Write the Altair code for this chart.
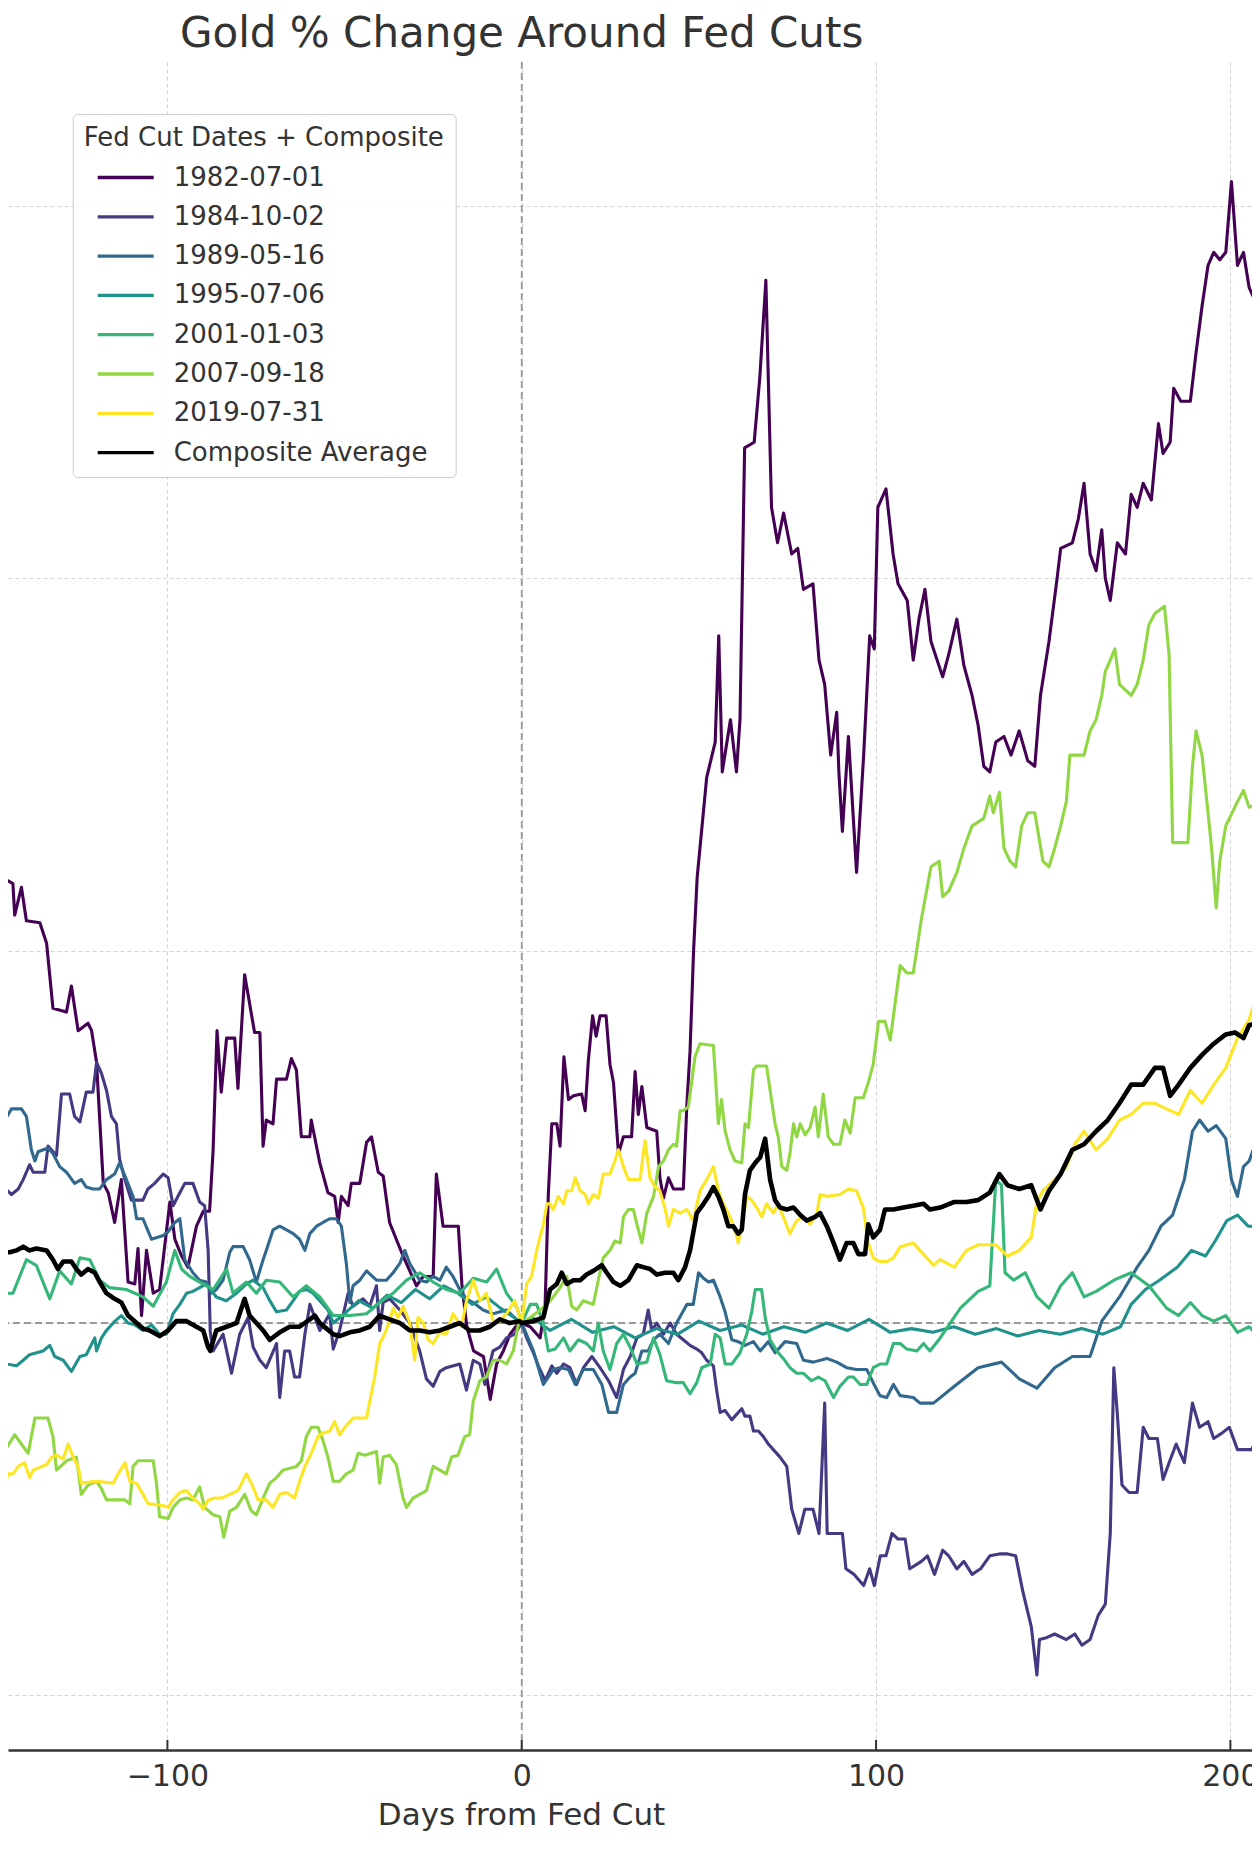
import altair as alt
import pandas as pd

names = ["1982-07-01", "1984-10-02", "1989-05-16", "1995-07-06",
         "2001-01-03", "2007-09-18", "2019-07-31", "Composite Average"]
colors = ["#440154", "#443983", "#31688e", "#21918c",
          "#35b779", "#90d743", "#fde725", "#000000"]
tick_values = [-100, 0, 100, 200]
chart_title = ["Gold % Change Around Fed Cuts"]

s1982 = [(-147.3,21.9),(-146.4,23.9),(-143.6,23.6),(-143.1,21.9),(-141.2,23.4),(-139.8,21.6),(-136.0,21.5),(-134.1,20.4),
 (-132.3,16.9),(-128.5,16.7),(-127.1,18.1),(-125.2,15.7),(-122.4,16.1),(-121.4,15.7),(-120.0,14.0),(-118.1,7.5),
 (-116.7,7.0),(-114.9,5.4),(-113.0,7.7),(-111.1,2.2),(-109.2,2.1),(-108.3,4.0),(-107.3,0.4),(-105.9,3.9),(-104.0,1.6),
 (-102.2,1.8),(-99.3,6.5),(-97.9,4.5),(-96.0,3.6),(-94.2,3.0),(-91.8,5.2),(-89.9,6.0),(-88.1,6.0),(-87.1,9.3),
 (-86.0,15.7),(-84.8,12.4),(-83.3,15.3),(-81.0,15.3),(-80.1,12.6),(-78.2,18.7),(-75.4,15.6),(-73.9,15.6),(-73.0,9.5),
 (-72.1,10.9),(-70.2,10.7),(-69.2,13.1),(-66.4,13.1),(-65.0,14.2),(-63.6,13.6),(-62.2,10.0),(-59.8,10.0),(-59.4,10.9),
 (-57.0,8.6),(-54.7,7.0),(-52.8,6.8),(-51.8,5.4),(-50.9,6.8),(-49.0,6.3),(-48.1,7.5),(-45.7,7.5),(-43.8,9.7),
 (-42.4,10.0),(-40.5,8.1),(-39.1,7.9),(-37.3,5.4),(-35.4,4.5),(-33.5,3.6),(-29.7,2.0),(-27.8,2.5),(-25.0,2.5),
 (-24.1,8.0),(-22.2,5.2),(-17.9,5.2),(-16.9,2.1),(-15.5,-0.2),(-13.6,-1.5),(-10.8,-1.8),(-8.9,-4.1),(-7.1,-2.2),
 (-5.2,-1.5),(-3.3,-0.6),(-0.5,0.1),(0,0),(2.4,-0.2),(5.2,-0.8),(6.6,1.0),(7.5,6.9),(8.5,10.7),(9.9,10.7),(10.8,9.5),
 (11.9,14.3),(13.2,12.0),(14.6,12.2),(16.9,12.3),(17.9,11.4),(18.8,14.1),(20.0,16.5),(21.0,15.4),(22.1,16.5),
 (23.8,16.5),(24.9,13.9),(25.9,12.9),(27.3,9.1),(28.7,10.0),(31.0,10.0),(32.0,13.5),(32.9,11.2),(33.9,12.7),
 (35.3,10.5),(38.1,10.3),(39.0,7.8),(40.0,6.7),(41.4,7.8),(42.8,7.2),(45.6,7.2),(46.6,11.7),(47.5,14.6),(48.5,20.0),
 (49.5,23.9),(52.2,29.3),(54.6,31.2),(55.6,36.9),(56.6,29.6),(58.9,32.4),(60.6,29.6),(61.6,32.4),(62.9,47.0),
 (65.6,47.3),(67.2,50.8),(68.9,56.0),(70.5,43.8),(72.2,41.9),(73.9,43.5),(76.2,41.3),(77.9,41.6),(79.5,39.4),
 (82.2,39.7),(83.9,35.6),(85.5,34.3),(87.2,30.5),(88.9,32.8),(89.5,29.6),(90.5,26.4),(92.2,31.5),(94.5,24.2),
 (96.5,30.5),(98.2,36.9),(99.5,36.2),(100.5,43.8),(102.8,44.8),(104.8,41.3),(106.2,39.7),(108.8,38.8),(110.5,35.6),
 (112.1,37.8),(113.8,39.4),(115.5,36.6),(118.8,34.7),(120.5,35.9),(122.8,37.8),(124.8,35.3),(127.1,33.7),
 (128.8,32.1),(130.4,29.9),(132.1,29.6),(133.8,31.2),(136.1,31.5),(138.1,30.5),(140.4,31.8),(142.8,30.2),
 (144.8,29.9),(146.4,33.7),(148.8,36.6),(151.1,40.0),(152.1,41.6),(155.4,41.9),(157.1,43.2),(158.7,45.1),
 (160.4,41.3),(162.1,40.4),(163.7,42.6),(164.7,40.0),(166.1,38.8),(168.1,41.9),(170.4,41.3),(172.0,44.5),
 (173.7,43.8),(175.4,45.1),(177.7,44.2),(179.7,48.3),(181.0,46.7),(183.0,47.3),(184.0,50.2),(186.0,49.5),
 (188.7,49.5),(190.3,52.1),(192.0,54.6),(193.7,56.8),(195.3,57.5),(197.0,57.1),(198.7,57.5),(200.3,61.3),
 (202.0,56.8),(203.7,57.5),(205.3,55.6),(207.0,54.9),(208.3,57.8)]

s1984 = [(-147.3,7.5),(-144.0,6.9),(-142.1,7.2),(-140.7,7.7),(-138.9,8.5),(-137.9,8.1),(-134.6,8.1),(-133.7,9.5),
 (-131.3,9.0),(-129.9,12.3),(-127.6,12.3),(-126.2,11.1),(-124.7,10.8),(-122.9,12.4),(-121.0,12.4),(-120.0,14.0),
 (-118.6,13.4),(-117.2,12.5),(-115.8,11.1),(-114.4,10.7),(-113.5,8.8),(-112.0,7.7),(-110.2,6.6),(-106.9,6.6),
 (-105.5,7.2),(-103.6,7.5),(-101.2,8.0),(-99.8,7.8),(-98.4,6.3),(-96.5,7.0),(-95.1,7.5),(-92.8,7.5),(-90.9,6.5),
 (-89.5,6.3),(-88.5,3.9),(-87.9,-0.5),(-87.1,-1.5),(-84.3,-0.6),(-81.9,-2.7),(-79.6,-0.6),(-77.2,0.3),(-75.8,-1.3),
 (-73.9,-2.0),(-72.1,-2.4),(-69.2,-1.1),(-68.3,-4.0),(-66.9,-1.5),(-65.5,-1.5),(-64.1,-2.9),(-62.7,-2.9),
 (-61.2,-0.6),(-59.8,1.0),(-57.0,-0.4),(-54.2,0.5),(-53.2,-1.4),(-51.4,-0.4),(-49.0,1.6),(-47.6,0.9),(-44.8,1.3),
 (-42.9,0.9),(-41.0,2.0),(-40.1,-0.4),(-39.1,1.1),(-37.3,1.3),(-34.4,0.7),(-31.6,0.0),(-28.8,-1.5),(-26.9,-3.0),
 (-25.0,-3.4),(-23.1,-2.6),(-21.3,-2.4),(-17.5,-2.2),(-15.6,-3.6),(-13.7,-2.0),(-11.8,-2.2),(-10.4,-3.3),
 (-8.1,-1.5),(-6.2,-1.3),(-4.3,-0.8),(-2.0,-0.6),(0,0),(1.4,-0.8),(3.3,-1.6),(4.7,-2.3),(6.6,-3.1),(8.5,-2.3),
 (9.9,-2.7),(11.8,-2.2),(13.6,-2.4),(15.5,-3.3),(17.4,-2.4),(19.8,-1.8),(22.1,-2.4),(24.5,-3.1),(26.8,-4.0),
 (28.7,-2.5),(30.6,-1.8),(32.5,-0.8),(34.3,-0.6),(35.7,0.7),(36.7,-0.4),(38.1,0.0),(40.0,-0.6),(41.9,0.0),
 (43.7,-0.6),(45.6,-0.9),(47.5,-1.2),(49.4,-1.4),(50.8,-1.6),(52.2,-2.0),(54.1,-2.3),(55.0,-3.6),(56.0,-4.8),
 (57.4,-4.7),(59.3,-5.2),(60.2,-5.0),(62.1,-4.6),(63.0,-5.0),(64.4,-5.0),(65.4,-5.8),(66.8,-5.8),(68.2,-6.1),
 (69.6,-6.5),(71.0,-6.8),(72.9,-7.2),(74.8,-7.7),(76.2,-10.0),(78.2,-11.3),(79.9,-10.0),(82.2,-10.0),(83.9,-11.3),
 (85.5,-4.3),(86.2,-11.3),(90.5,-11.3),(91.5,-13.2),(93.8,-13.5),(96.5,-14.1),(98.2,-13.2),(99.5,-14.1),
 (101.2,-12.5),(102.8,-12.5),(104.5,-11.3),(106.2,-11.6),(108.2,-11.6),(109.5,-13.2),(112.8,-12.8),(114.5,-12.5),
 (116.5,-13.5),(118.8,-12.2),(120.5,-12.5),(122.8,-13.2),(124.8,-12.8),(127.1,-13.5),(129.5,-13.2),(132.1,-12.5),
 (134.8,-12.4),(137.1,-12.4),(139.4,-12.5),(141.4,-14.4),(143.8,-16.3),(145.4,-18.9),(146.1,-17.0),(148.1,-16.9),
 (150.4,-16.7),(153.7,-17.0),(156.1,-16.7),(158.1,-17.3),(160.4,-17.0),(162.7,-15.7),(164.7,-15.1),(166.1,-11.3),
 (167.1,-2.4),(168.1,-4.9),(169.4,-8.7),(171.4,-9.1),(173.7,-9.1),(175.4,-5.6),(177.0,-6.2),(179.4,-6.2),
 (181.0,-8.4),(182.7,-7.5),(184.7,-6.5),(187.0,-7.5),(189.3,-4.3),(191.3,-5.6),(193.7,-5.3),(195.3,-6.2),
 (197.7,-5.9),(199.7,-5.6),(202.0,-6.8),(204.3,-6.8),(206.0,-6.8),(208.3,-5.9)]

s1989 = [(-147.3,10.2),(-145.9,10.9),(-144.0,11.5),(-141.2,11.5),(-139.8,11.1),(-138.4,9.3),(-137.4,8.7),(-136.5,9.2),
 (-133.7,9.4),(-132.3,9.1),(-130.4,8.4),(-128.5,8.1),(-126.2,7.5),(-124.3,7.7),(-122.9,7.3),(-121.0,7.2),(-119.1,7.2),
 (-117.2,7.7),(-114.9,8.0),(-113.5,8.6),(-112.0,7.9),(-109.7,6.8),(-108.7,5.6),(-106.9,5.6),(-104.5,4.5),(-101.2,4.7),
 (-99.8,4.9),(-97.9,5.4),(-96.5,5.6),(-95.1,3.4),(-92.8,2.7),(-90.9,2.3),(-89.0,2.2),(-87.6,1.6),(-86.2,1.8),
 (-84.3,2.3),(-82.4,3.8),(-81.5,4.1),(-78.6,4.1),(-76.8,3.4),(-74.9,2.2),(-73.0,3.4),(-72.1,3.9),(-70.2,5.0),
 (-68.3,5.2),(-66.4,5.0),(-64.5,4.8),(-62.7,4.5),(-61.2,3.9),(-59.8,4.8),(-57.9,5.2),(-56.1,5.4),(-54.2,5.6),
 (-52.3,5.6),(-50.9,5.2),(-49.5,3.2),(-48.5,1.1),(-47.6,2.0),(-45.7,2.3),(-43.8,2.8),(-41.0,2.3),(-38.2,2.3),
 (-36.3,2.7),(-34.4,3.2),(-33.0,3.9),(-31.6,3.2),(-28.8,2.3),(-26.9,2.2),(-25.0,2.5),(-23.1,2.3),(-21.3,3.0),
 (-19.4,2.5),(-17.5,1.8),(-15.6,1.3),(-13.7,1.1),(-10.9,0.7),(-8.1,0.5),(-4.3,0.7),(-1.5,0.2),(0,0),(3.3,-1.5),
 (6.1,-3.3),(7.5,-2.9),(8.9,-2.5),(10.8,-2.4),(13.2,-2.5),(15.1,-3.3),(17.4,-2.5),(20.2,-2.5),(22.6,-3.3),
 (24.5,-4.8),(26.8,-4.8),(28.7,-3.3),(30.6,-2.9),(32.0,-2.7),(33.9,-1.5),(35.7,-1.5),(37.2,-0.9),(39.0,-0.6),
 (41.4,-1.1),(43.7,0.0),(46.6,1.0),(48.4,1.0),(49.9,2.7),(51.3,2.4),(52.7,2.2),(54.1,2.3),(56.0,1.4),(57.4,0.6),
 (59.3,-0.9),(61.1,-1.0),(63.0,-1.2),(65.4,-1.0),(67.3,-1.5),(69.6,-1.0),(71.5,-1.6),(74.3,-1.0),(77.6,-1.1),
 (79.5,-2.0),(82.3,-2.1),(86.1,-1.9),(88.9,-2.1),(91.7,-2.4),(94.5,-2.5),(97.4,-2.5),(99.7,-3.4),(101.1,-3.9),
 (103.0,-4.0),(104.9,-3.3),(106.8,-3.9),(110.5,-4.0),(112.4,-4.3),(116.2,-4.3),(122.1,-3.4),(128.8,-2.4),
 (135.4,-2.1),(140.4,-3.0),(145.4,-3.5),(150.4,-2.4),(155.4,-1.8),(160.4,-1.8),(163.7,0.1),(168.7,1.4),(173.7,3.0),
 (177.0,3.9),(180.4,5.2),(183.7,5.8),(187.0,7.7),(189.3,10.3),(191.3,10.9),(193.7,10.3),(196.0,10.6),(198.7,9.9),
 (200.3,7.7),(202.0,6.8),(203.7,8.4),(205.3,8.7),(207.0,9.6),(208.3,11.2)]

s1995 = [(-147.3,-2.0),(-145.4,-2.2),(-142.6,-2.3),(-140.7,-2.0),(-138.9,-1.7),(-135.1,-1.5),(-133.2,-1.2),(-131.8,-1.8),
 (-129.4,-2.0),(-127.1,-2.6),(-124.7,-1.8),(-122.9,-1.7),(-120.5,-0.8),(-120.0,-1.5),(-118.6,-0.8),(-117.2,-0.4),
 (-114.8,0.1),(-113.0,0.4),(-111.1,0.0),(-109.2,-0.1),(-106.9,-0.4),(-104.5,-0.1),(-102.2,-0.6),(-100.3,-0.6),
 (-98.4,0.5),(-96.5,1.0),(-94.6,1.6),(-92.8,1.7),(-90.9,1.9),(-89.0,2.1),(-86.2,1.4),(-83.4,1.2),(-80.5,1.6),
 (-77.7,2.1),(-75.8,2.3),(-73.0,1.9),(-71.1,1.2),(-69.2,0.6),(-66.4,0.7),(-64.5,1.2),(-62.7,1.7),(-60.8,1.8),
 (-58.9,1.6),(-57.0,1.2),(-54.7,0.7),(-53.2,0.0),(-50.0,0.5),(-46.0,1.2),(-42.0,0.8),(-38.0,1.5),(-34.0,1.1),
 (-30.0,1.8),(-26.0,1.3),(-22.0,2.0),(-18.0,1.6),(-14.0,1.0),(-10.0,1.4),(-6.0,0.8),(-3.0,0.4),(0,0),(3.0,0.3),
 (8.0,-0.4),(14.0,0.2),(20.0,-0.5),(26.0,-0.2),(32.0,-0.8),(38.0,-0.3),(44.0,-0.6),(50.0,0.1),(56.0,-0.4),
 (62.0,-0.1),(68.0,-0.6),(74.0,-0.2),(80.0,-0.5),(86.0,0.0),(92.0,-0.4),(98.0,0.2),(104.0,-0.5),(110.0,-0.3),
 (116.0,-0.5),(122.0,-0.2),(128.0,-0.6),(134.0,-0.3),(140.0,-0.7),(146.0,-0.4),(152.0,-0.6),(158.0,-0.3),
 (164.0,-0.6),(169.0,-0.2),(172.0,1.0),(176.0,1.8),(180.0,2.3),(185.0,3.0),(189.0,3.9),(193.0,3.6),(196.0,4.5),
 (199.0,5.5),(202.0,5.8),(205.0,5.2),(208.3,5.2)]

s2001 = [(-147.3,1.6),(-143.6,1.6),(-139.8,3.4),(-137.0,3.1),(-133.2,1.3),(-130.4,2.8),(-127.1,2.1),(-124.7,3.5),
 (-121.9,3.4),(-119.1,2.3),(-116.3,1.9),(-111.6,1.8),(-106.9,1.4),(-104.0,0.9),(-100.3,2.2),(-97.9,3.9),(-96.0,2.9),
 (-93.7,2.5),(-90.9,2.2),(-87.1,1.8),(-83.3,2.9),(-81.5,1.6),(-77.7,2.2),(-74.9,1.6),(-72.1,2.3),(-68.3,2.2),
 (-64.5,1.4),(-60.8,2.0),(-57.0,1.4),(-53.2,0.4),(-48.5,0.4),(-43.8,0.5),(-40.1,1.1),(-36.3,1.6),(-32.5,2.3),
 (-28.8,2.7),(-25.0,2.2),(-21.3,1.8),(-17.5,1.6),(-13.7,2.4),(-9.9,2.2),(-7.1,2.9),(-4.3,1.6),(-1.5,0.9),(0,0),
 (2.4,1.0),(4.2,1.0),(6.1,0.0),(7.5,-1.5),(9.4,-1.4),(11.8,-0.8),(13.6,-1.5),(16.0,-0.9),(18.3,-1.1),(20.2,-1.5),
 (21.6,0.0),(23.0,-1.5),(24.9,-2.5),(26.8,-1.1),(28.7,-0.6),(30.6,-1.3),(32.5,-2.2),(35.3,-2.1),(37.2,-0.8),
 (39.0,-1.7),(40.9,-3.1),(43.3,-3.2),(45.6,-3.2),(47.5,-3.8),(49.4,-3.2),(50.8,-2.4),(53.2,-2.2),(54.6,-0.6),
 (56.0,-0.8),(57.4,-2.2),(59.3,-2.2),(61.6,-1.6),(63.5,-0.6),(64.9,0.6),(65.9,1.8),(67.7,1.8),(68.7,0.3),
 (70.1,-0.9),(72.0,-1.5),(73.8,-1.9),(75.7,-2.4),(77.6,-2.7),(79.5,-2.7),(81.8,-3.1),(83.7,-2.9),(85.6,-3.1),
 (88.0,-4.0),(89.8,-3.4),(92.2,-2.9),(93.6,-2.9),(95.5,-3.3),(97.4,-3.3),(99.2,-2.4),(101.1,-2.2),(103.0,-2.2),
 (104.9,-1.1),(106.8,-1.1),(108.7,-1.4),(111.5,-1.5),(113.4,-1.1),(115.2,-1.5),(118.1,-0.8),(123.8,0.8),
 (128.8,1.7),(132.1,2.0),(133.8,7.7),(135.4,7.4),(136.4,2.7),(138.8,2.3),(142.1,2.7),(145.4,1.4),(148.8,0.8),
 (152.1,2.0),(155.4,2.7),(158.7,1.4),(162.1,1.7),(167.1,2.3),(172.0,2.7),(177.0,2.0),(182.0,0.8),(185.4,0.4),
 (188.7,1.1),(192.0,0.4),(195.3,0.1),(198.7,0.4),(202.0,-0.5),(205.3,-0.2),(208.3,-0.8)]

s2007 = [(-147.3,-5.2),(-145.4,-6.7),(-143.1,-6.0),(-141.2,-6.5),(-139.3,-7.0),(-137.4,-5.1),(-133.7,-5.1),(-132.3,-6.1),
 (-131.3,-7.9),(-128.5,-7.4),(-125.7,-7.2),(-124.3,-9.2),(-122.4,-8.7),(-120.0,-8.5),(-118.6,-8.9),(-117.2,-9.5),
 (-112.0,-9.5),(-110.6,-9.7),(-109.7,-7.7),(-108.3,-7.4),(-104.0,-7.4),(-103.1,-8.6),(-102.2,-10.4),(-99.8,-10.5),
 (-98.4,-9.9),(-96.5,-9.5),(-94.6,-9.4),(-92.8,-9.5),(-90.9,-8.8),(-89.5,-9.9),(-87.1,-10.3),(-85.2,-10.4),
 (-84.1,-11.5),(-82.4,-10.1),(-80.5,-9.9),(-78.2,-9.2),(-76.3,-10.1),(-74.9,-10.3),(-73.0,-9.4),(-71.1,-8.6),
 (-69.2,-8.3),(-67.4,-7.9),(-63.6,-7.7),(-62.2,-7.4),(-60.8,-6.1),(-59.4,-5.6),(-57.5,-5.6),(-56.1,-6.3),
 (-54.7,-7.2),(-53.2,-8.5),(-51.4,-8.5),(-49.5,-8.1),(-47.6,-7.9),(-46.2,-7.0),(-44.3,-7.1),(-41.0,-6.9),
 (-40.1,-8.6),(-39.1,-7.2),(-37.3,-7.1),(-35.4,-7.6),(-33.5,-9.4),(-32.5,-9.9),(-30.7,-9.4),(-28.8,-9.2),
 (-26.9,-9.0),(-25.0,-7.7),(-23.1,-7.9),(-21.3,-8.1),(-19.8,-7.2),(-18.0,-7.1),(-16.1,-6.1),(-14.7,-6.0),
 (-13.7,-4.2),(-11.8,-3.1),(-10.0,-2.9),(-8.1,-2.0),(-6.2,-2.0),(-4.3,-2.2),(-2.4,-1.5),(-0.6,0.3),(0,0),
 (2.4,0.3),(5.2,0.7),(7.1,1.0),(8.9,1.4),(10.8,1.9),(12.7,2.5),(14.1,0.9),(15.5,0.7),(17.4,1.2),(20.2,1.0),
 (21.6,2.3),(23.0,3.5),(24.9,3.9),(26.3,4.4),(27.8,4.3),(28.7,5.7),(30.1,6.1),(31.5,6.1),(32.5,5.3),(33.9,4.3),
 (35.3,5.9),(37.2,6.8),(38.6,8.4),(40.0,8.7),(41.4,9.3),(42.8,9.6),(43.7,9.5),(44.7,11.4),(45.6,11.4),(47.0,11.6),
 (48.0,13.0),(48.9,14.3),(50.3,15.0),(54.1,14.9),(55.5,10.7),(56.4,12.0),(57.4,10.3),(58.8,9.3),(60.2,8.7),
 (62.1,8.6),(63.0,10.7),(64.0,10.5),(65.4,13.6),(66.3,13.8),(69.1,13.8),(70.1,12.5),(71.5,10.7),(72.4,10.0),
 (73.4,8.4),(74.8,8.2),(75.7,9.1),(76.7,10.7),(77.6,10.0),(78.6,10.7),(80.0,10.1),(81.4,10.5),(82.8,11.6),
 (83.7,10.0),(85.1,12.3),(86.5,10.0),(88.0,9.6),(89.8,9.6),(91.2,10.9),(92.7,10.2),(94.1,12.1),(96.4,12.1),
 (97.8,12.9),(99.2,13.9),(100.7,16.2),(102.5,16.2),(104.0,15.2),(105.4,17.2),(106.8,19.2),(108.7,18.8),
 (110.5,18.8),(112.8,21.7),(115.5,24.5),(117.8,24.8),(118.8,22.9),(120.5,23.2),(122.8,24.2),(124.8,25.5),
 (127.1,26.7),(130.4,27.1),(132.1,28.3),(133.1,27.4),(134.8,28.5),(136.1,25.5),(137.8,24.8),(139.4,24.5),
 (141.1,26.7),(142.8,27.4),(144.8,27.4),(147.1,24.8),(148.8,24.5),(150.4,25.5),(152.1,26.7),(153.7,28.0),
 (154.7,30.5),(158.7,30.5),(160.4,31.8),(162.1,32.4),(163.7,33.7),(164.7,35.0),(166.1,35.6),(167.4,36.2),
 (168.7,34.3),(172.0,33.7),(173.7,34.3),(175.4,35.6),(177.0,37.5),(178.7,38.1),(181.4,38.5),(182.7,35.9),
 (183.7,25.8),(188.0,25.8),(189.3,29.9),(190.3,31.8),(192.0,30.5),(193.7,27.4),(194.7,25.5),(196.0,22.3),
 (197.0,24.8),(198.7,26.7),(202.0,28.0),(203.7,28.6),(205.3,27.7),(208.3,27.9)]

s2019 = [(-147.3,-9.0),(-145.9,-8.8),(-145.0,-8.1),(-143.6,-8.1),(-142.1,-7.7),(-140.3,-7.5),(-138.9,-8.3),(-137.9,-7.9),
 (-134.1,-7.6),(-132.7,-7.2),(-131.3,-7.1),(-129.4,-7.3),(-128.0,-6.5),(-126.6,-7.2),(-125.2,-7.7),(-124.3,-8.6),
 (-120.0,-8.5),(-115.3,-8.6),(-113.9,-8.1),(-112.0,-7.5),(-110.6,-8.5),(-108.7,-8.6),(-106.9,-9.2),(-105.5,-9.7),
 (-101.2,-9.8),(-99.8,-9.9),(-98.4,-9.5),(-96.5,-9.1),(-94.6,-9.0),(-92.8,-9.4),(-90.9,-9.7),(-89.9,-10.0),
 (-88.5,-9.5),(-86.6,-9.4),(-84.8,-9.4),(-82.4,-9.2),(-80.1,-9.0),(-77.7,-8.1),(-76.3,-8.6),(-74.4,-9.5),
 (-72.1,-9.5),(-70.2,-9.9),(-68.3,-9.2),(-66.4,-9.1),(-64.1,-9.4),(-62.7,-8.5),(-61.2,-7.7),(-59.4,-7.0),
 (-57.5,-6.1),(-56.1,-5.9),(-54.2,-5.8),(-52.8,-5.3),(-51.4,-6.0),(-49.5,-5.5),(-47.6,-5.1),(-43.8,-5.1),
 (-42.9,-4.2),(-41.5,-2.9),(-40.1,-1.1),(-38.7,-0.6),(-37.3,0.1),(-36.3,0.8),(-34.9,0.3),(-33.5,0.9),(-31.6,0.0),
 (-30.2,-2.0),(-29.3,0.3),(-27.8,0.0),(-26.4,-0.9),(-25.0,-1.1),(-23.1,-0.5),(-21.3,-0.6),(-19.4,0.5),(-17.0,-0.2),
 (-15.6,1.2),(-13.7,2.3),(-11.8,1.2),(-10.0,1.6),(-8.1,0.1),(-6.2,0.1),(-4.3,0.5),(-2.0,1.2),(0,0),(1.4,2.1),
 (2.8,2.5),(4.2,3.9),(6.1,5.3),(7.1,6.4),(8.0,6.4),(8.9,6.1),(10.3,6.8),(11.8,6.4),(12.7,7.1),(14.1,7.1),(15.1,7.8),
 (16.5,7.1),(17.9,6.9),(18.8,6.4),(20.2,6.9),(21.6,6.7),(23.0,8.0),(24.9,8.0),(26.3,8.7),(27.3,9.3),(28.7,8.4),
 (30.1,7.7),(33.4,7.7),(34.8,9.8),(36.2,7.8),(37.6,7.3),(39.0,7.1),(40.5,6.1),(41.4,5.2),(42.8,6.1),(44.7,5.9),
 (46.6,6.1),(48.4,5.5),(50.3,7.1),(52.2,7.7),(54.1,8.4),(55.5,7.1),(56.9,6.4),(58.8,5.7),(60.2,5.0),(61.1,4.3),
 (62.1,5.2),(63.5,6.8),(64.9,6.6),(66.3,6.2),(67.7,5.7),(69.1,6.4),(71.0,5.9),(72.4,6.4),(73.8,5.7),(75.7,4.8),
 (77.6,5.5),(79.5,5.7),(81.4,5.3),(83.3,5.9),(84.2,6.9),(86.1,6.8),(89.8,6.9),(92.2,7.2),(94.5,7.1),(96.4,6.2),
 (97.8,4.3),(99.2,3.5),(101.1,3.3),(103.0,3.3),(104.9,3.5),(106.8,4.1),(110.5,4.3),(112.4,3.9),(114.3,3.5),
 (116.2,3.1),(118.0,3.4),(122.1,3.0),(125.5,3.9),(128.8,4.2),(133.8,4.2),(137.1,3.6),(140.4,3.9),(143.8,4.6),
 (145.4,6.5),(147.1,7.1),(150.4,7.7),(153.7,8.4),(156.1,9.6),(158.7,10.3),(162.1,9.3),(165.4,9.9),(168.7,10.9),
 (172.0,11.2),(175.4,11.8),(178.7,11.8),(182.0,11.5),(185.4,11.2),(188.7,12.5),(192.0,11.8),(195.3,12.8),
 (198.7,13.7),(202.0,15.3),(205.3,16.3),(207.0,17.4),(208.3,16.6)]

composite = [(-147.3,3.8),(-144.5,3.8),(-142.6,3.9),(-140.7,4.1),(-138.9,3.9),(-137.0,4.0),(-134.1,3.9),(-132.3,3.4),
 (-130.9,2.9),(-129.4,3.3),(-127.1,3.3),(-125.7,2.9),(-124.3,2.6),(-122.4,2.9),(-120.5,2.7),(-119.1,2.2),(-117.2,1.6),
 (-114.9,1.3),(-113.0,1.1),(-111.1,0.4),(-108.7,0.0),(-106.9,-0.3),(-105.0,-0.4),(-102.2,-0.7),(-99.8,-0.4),
 (-97.5,0.1),(-94.6,0.1),(-91.8,-0.2),(-89.9,-0.4),(-88.5,-1.3),(-87.9,-1.5),(-86.2,-0.4),(-83.3,-0.2),(-80.5,0.0),
 (-78.2,1.3),(-76.8,0.4),(-74.9,0.0),(-73.0,-0.4),(-71.1,-0.9),(-68.3,-0.5),(-65.5,-0.2),(-62.7,-0.2),(-59.8,0.2),
 (-58.4,0.4),(-57.0,0.0),(-55.1,-0.3),(-53.2,-0.6),(-51.4,-0.7),(-48.5,-0.5),(-45.7,-0.4),(-42.9,-0.2),(-40.1,0.4),
 (-37.3,0.2),(-34.4,0.0),(-31.6,-0.4),(-28.8,-0.4),(-26.0,-0.5),(-23.1,-0.4),(-20.3,-0.2),(-17.5,0.0),(-14.7,-0.4),
 (-11.9,-0.4),(-9.0,-0.2),(-6.2,0.2),(-3.4,0.0),(-0.6,0.1),(0,0),(3.3,0.1),(6.1,0.3),(8.0,1.8),(9.9,2.1),(11.3,2.7),
 (12.7,2.1),(14.6,2.3),(16.5,2.3),(18.3,2.6),(20.2,2.8),(22.6,3.1),(24.0,2.7),(25.9,2.2),(27.8,2.0),(30.1,2.3),
 (32.5,3.1),(34.3,3.0),(36.2,2.9),(38.1,2.6),(40.5,2.7),(42.8,2.7),(44.2,2.3),(46.1,3.0),(47.5,3.9),(49.4,5.9),
 (51.3,6.4),(52.7,6.8),(54.1,7.3),(55.5,6.8),(56.9,6.1),(58.3,5.2),(59.7,5.2),(61.1,4.8),(62.1,5.0),(63.0,6.9),
 (64.4,8.2),(65.9,8.6),(67.3,8.9),(68.7,9.9),(70.1,7.7),(71.5,6.6),(72.9,6.2),(74.8,6.1),(76.7,6.2),(78.6,5.8),
 (80.4,5.5),(82.8,5.7),(84.2,5.9),(86.1,5.2),(88.0,4.3),(89.8,3.4),(91.7,4.3),(93.6,4.3),(95.0,3.7),(96.9,3.7),
 (97.8,5.3),(99.2,4.6),(101.1,5.0),(102.5,6.1),(104.9,6.1),(107.7,6.2),(110.5,6.3),(113.4,6.4),(115.2,6.1),
 (118.1,6.2),(122.1,6.5),(125.5,6.5),(128.8,6.6),(132.1,7.0),(134.8,8.0),(137.1,7.4),(140.4,7.2),(143.8,7.4),
 (146.4,6.1),(148.8,7.1),(152.1,8.0),(155.4,9.3),(158.7,9.6),(162.1,10.3),(165.4,10.9),(168.7,11.8),(172.0,12.8),
 (175.4,12.8),(178.7,13.7),(181.0,13.7),(183.0,12.2),(185.4,12.8),(188.7,13.7),(192.0,14.4),(195.3,15.0),
 (198.7,15.5),(201.3,15.6),(203.7,15.3),(205.3,16.0),(208.3,16.1)]

series_points = [s1982, s1984, s1989, s1995, s2001, s2007, s2019]

rows = []
for name, pts in zip(names[:7], series_points):
    for d, v in pts:
        rows.append({"series": name, "day": d, "pct": v})
df_series = pd.DataFrame(rows)
df_comp = pd.DataFrame([{"series": names[7], "day": d, "pct": v} for d, v in composite])

FONT = "DejaVu Sans"
TXT = "#333333"
W, H = 1244, 1688

x_scale = alt.Scale(domain=[-144.99, 206.1], nice=False, zero=False)
y_scale = alt.Scale(domain=[-22.93, 67.72], nice=False, zero=False)

x_axis = alt.Axis(values=tick_values, grid=True, gridColor="#d4d4d4", gridDash=[4, 3], gridWidth=1,
                  ticks=False, tickSize=0, domain=True, domainColor=TXT, domainWidth=2.6,
                  labelFontSize=30, labelFont=FONT, labelColor=TXT, labelPadding=11, labelFlush=False,
                  title="Days from Fed Cut", titleFontSize=31, titleFont=FONT, titleFontWeight="normal",
                  titleColor=TXT, titleX=513, titleY=74, titleBaseline="alphabetic", titleAlign="center")
y_axis = alt.Axis(values=[-20, 0, 20, 40, 60], labels=False, ticks=False, domain=False, title=None,
                  grid=True, gridColor="#d4d4d4", gridDash=[4, 3], gridWidth=1)

legend = alt.Legend(title="Fed Cut Dates + Composite", orient="none", legendX=64.7, legendY=52,
                    titleFont=FONT, titleFontSize=26, titleFontWeight="normal", titleColor=TXT,
                    labelFont=FONT, labelFontSize=26, labelColor=TXT, labelLimit=500, titleLimit=600,
                    symbolType="stroke", symbolSize=3136, symbolStrokeWidth=3.3,
                    symbolOffset=12, labelOffset=18, clipHeight=26, rowPadding=13.3, titlePadding=13.5,
                    padding=11, strokeColor="#cccccc", fillColor="rgba(255,255,255,0.85)", cornerRadius=5)

color = alt.Color("series:N", scale=alt.Scale(domain=names, range=colors), legend=legend)

zero_h = alt.Chart(pd.DataFrame({"pct": [0]})).mark_rule(
    color="#999999", strokeDash=[7, 4], strokeWidth=1.8).encode(y=alt.Y("pct:Q", scale=y_scale))
zero_v = alt.Chart(pd.DataFrame({"day": [0]})).mark_rule(
    color="#999999", strokeDash=[7, 4], strokeWidth=1.8).encode(x=alt.X("day:Q", scale=x_scale))

lines = alt.Chart(df_series).mark_line(clip=True, strokeWidth=3.1, strokeJoin="round").encode(
    x=alt.X("day:Q", scale=x_scale, axis=x_axis),
    y=alt.Y("pct:Q", scale=y_scale, axis=y_axis),
    color=color,
)
comp = alt.Chart(df_comp).mark_line(clip=True, strokeWidth=4.6, strokeJoin="round").encode(
    x=alt.X("day:Q", scale=x_scale),
    y=alt.Y("pct:Q", scale=y_scale),
    color=color,
)
ticks = alt.Chart(pd.DataFrame({"day": tick_values})).mark_rule(color=TXT, strokeWidth=2).encode(
    x=alt.X("day:Q", scale=x_scale), y=alt.value(H), y2=alt.value(H - 10))

title_text = alt.Chart(pd.DataFrame({"t": chart_title})).mark_text(
    font=FONT, fontSize=42, color=TXT, align="center", baseline="alphabetic").encode(
    text="t:N", x=alt.value(513.6), y=alt.value(-15.3))

chart = alt.layer(zero_h, zero_v, lines, comp, ticks, title_text).properties(
    width=W, height=H,
    autosize=alt.AutoSizeParams(type="none"),
    padding={"left": 0, "top": 54, "right": 0, "bottom": 85},
).configure(font=FONT).configure_view(strokeWidth=0, stroke="transparent")

chart.save("out.html", embed_options={"renderer": "svg", "actions": False})
